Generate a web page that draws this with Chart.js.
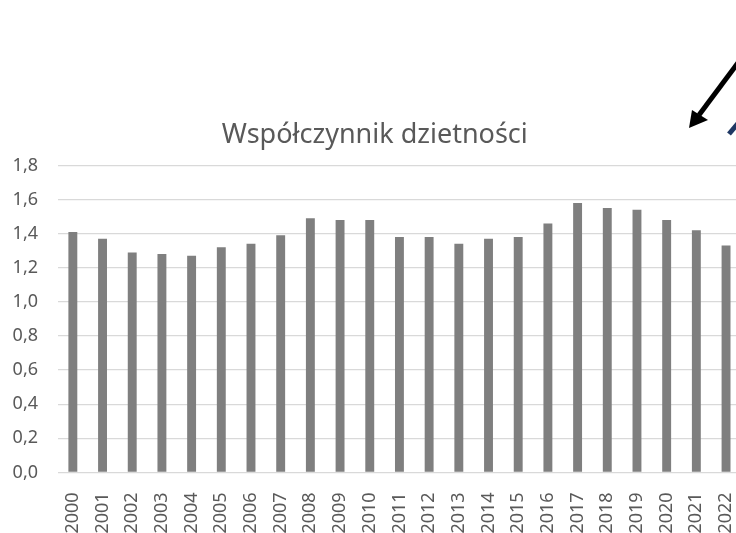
<!DOCTYPE html>
<html>
<head>
<meta charset="utf-8">
<script src="https://cdn.jsdelivr.net/npm/chart.js@4/dist/chart.umd.min.js"></script>
<style>
  html, body { margin: 0; padding: 0; background: #fff; overflow: hidden; }
  #wrap { width: 760px; height: 533px; }
</style>
</head>
<body>
<div id="wrap"><canvas id="canvas" width="760" height="533"></canvas></div>
<script>
// dane
var lata = ['2000','2001','2002','2003','2004','2005','2006','2007','2008','2009','2010',
            '2011','2012','2013','2014','2015','2016','2017','2018','2019','2020','2021','2022'];
var wspolczynnik = [1.41, 1.37, 1.29, 1.28, 1.27, 1.32, 1.34, 1.39, 1.49, 1.48, 1.48,
                    1.38, 1.38, 1.34, 1.37, 1.38, 1.46, 1.58, 1.55, 1.54, 1.48, 1.42, 1.33];
var tytul = 'Współczynnik dzietności';

var fonte = '"Noto Sans", "Open Sans", sans-serif';

// strzalki w prawym gornym rogu (dekoracja z oryginalu)
var strzalki = {
  id: 'strzalki',
  afterDraw: function(chart) {
    var ctx = chart.ctx;
    ctx.save();
    ctx.lineCap = 'butt';
    // czarna
    ctx.strokeStyle = '#000';
    ctx.lineWidth = 5;
    ctx.beginPath();
    ctx.moveTo(758, 36);
    ctx.lineTo(699, 115);
    ctx.stroke();
    ctx.fillStyle = '#000';
    ctx.beginPath();
    ctx.moveTo(689, 128);
    ctx.lineTo(692, 110);
    ctx.lineTo(708, 120);
    ctx.closePath();
    ctx.fill();
    // niebieska
    ctx.strokeStyle = '#1f3864';
    ctx.beginPath();
    ctx.moveTo(729, 134);
    ctx.lineTo(745, 115);
    ctx.stroke();
    ctx.restore();
  }
};

window.onload = function() {
  var ctx = document.getElementById('canvas').getContext('2d');
  window.myBar = new Chart(ctx, {
    type: 'bar',
    data: {
      labels: lata,
      datasets: [{
        label: tytul,
        data: wspolczynnik,
        backgroundColor: '#7f7f7f',
        borderWidth: 0,
        categoryPercentage: 1,
        barPercentage: 0.3
      }]
    },
    options: {
      responsive: false,
      animation: false,
      layout: { padding: { left: 6, right: 16.4, top: 0, bottom: 0 } },
      plugins: {
        legend: { display: false },
        tooltip: { enabled: false },
        title: {
          display: true,
          text: tytul,
          color: '#595959',
          font: { family: fonte, size: 27, weight: 'normal' },
          padding: { top: 119, bottom: 14 }
        }
      },
      scales: {
        x: {
          grid: { display: false },
          border: { display: false },
          ticks: {
            color: '#595959',
            font: { family: fonte, size: 18 },
            minRotation: 90,
            maxRotation: 90,
            padding: 12,
            autoSkip: false
          },
          afterFit: function(scale) { scale.height = 60.6; }
        },
        y: {
          min: 0,
          max: 1.8,
          border: { display: false },
          grid: { color: '#d9d9d9', lineWidth: 1.3, drawTicks: false },
          ticks: {
            stepSize: 0.2,
            color: '#595959',
            font: { family: fonte, size: 18 },
            padding: 20,
            callback: function(v) { return v.toFixed(1).replace('.', ','); }
          },
          afterFit: function(scale) { scale.width = 52; }
        }
      }
    },
    plugins: [strzalki]
  });
};
</script>
</body>
</html>
